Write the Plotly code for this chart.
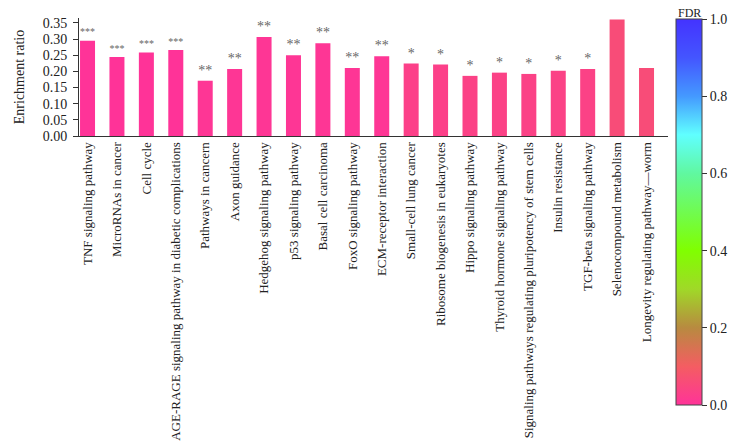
import plotly.graph_objects as go

pathways = [
    "TNF signaling pathway",
    "MicroRNAs in cancer",
    "Cell cycle",
    "AGE-RAGE signaling pathway in diabetic complications",
    "Pathways in cancern",
    "Axon guidance",
    "Hedgehog signaling pathway",
    "p53 signaling pathway",
    "Basal cell carcinoma",
    "FoxO signaling pathway",
    "ECM-receptor interaction",
    "Small-cell lung cancer",
    "Ribosome biogenesis in eukaryotes",
    "Hippo signaling pathway",
    "Thyroid hormone signaling pathway",
    "Signaling pathways regulating pluripotency of stem cells",
    "Insulin resistance",
    "TGF-beta signaling pathway",
    "Selenocompound metabolism",
    "Longevity regulating pathway\u2014worm",
]
enrichment = [0.295, 0.244, 0.258, 0.266, 0.171, 0.207, 0.306, 0.250, 0.287, 0.210,
              0.247, 0.224, 0.221, 0.186, 0.196, 0.192, 0.202, 0.207, 0.360, 0.210]
fdr = [0.001, 0.001, 0.001, 0.001, 0.008, 0.008, 0.008, 0.008, 0.008, 0.008,
       0.008, 0.03, 0.03, 0.035, 0.035, 0.035, 0.035, 0.035, 0.06, 0.06]
stars = ["***", "***", "***", "***", "**", "**", "**", "**", "**", "**",
         "**", "*", "*", "*", "*", "*", "*", "*", "", ""]
y_ticks = [0.00, 0.05, 0.10, 0.15, 0.20, 0.25, 0.30, 0.35]
cbar_ticks = [0.0, 0.2, 0.4, 0.6, 0.8, 1.0]

FONT = "Liberation Serif, Times New Roman, serif"

colorscale = [
    [0.0, "#FF3399"],
    [0.1, "#F45D62"],
    [0.2, "#B88A40"],
    [0.3, "#A0D828"],
    [0.4, "#80FF00"],
    [0.6, "#60F8A0"],
    [0.7, "#60FFFF"],
    [0.8, "#4499FF"],
    [0.9, "#4455FF"],
    [1.0, "#4433FF"],
]

plot_top, plot_bottom = 10, 128
plot_h = plot_bottom - plot_top
cb_len_px = 386
cb_center_px = 204
cb_center_paper = (plot_bottom - cb_center_px) / plot_h

fig = go.Figure(
    go.Bar(
        x=list(range(len(pathways))),
        y=enrichment,
        width=0.51,
        text=stars,
        textposition="outside",
        textfont=dict(family=FONT, size=14, color="#666666"),
        outsidetextfont=dict(family=FONT, size=14, color="#666666"),
        cliponaxis=False,
        marker=dict(
            color=fdr,
            colorscale=colorscale,
            cmin=0,
            cmax=1,
            line=dict(width=0),
            colorbar=dict(
                tickvals=cbar_ticks,
                ticktext=[f"{v:.1f}" for v in cbar_ticks],
                ticks="outside",
                ticklen=5,
                tickcolor="#333",
                tickfont=dict(family=FONT, size=14, color="#222"),
                thickness=26,
                thicknessmode="pixels",
                len=cb_len_px,
                lenmode="pixels",
                x=1.014,
                xanchor="left",
                xpad=0,
                yref="paper",
                y=cb_center_paper,
                yanchor="middle",
                ypad=0,
                outlinecolor="#444",
                outlinewidth=1,
            ),
        ),
        hoverinfo="x+y",
    )
)

fig.update_layout(
    width=738,
    height=448,
    margin=dict(l=71, r=78, t=plot_top, b=448 - plot_bottom),
    paper_bgcolor="white",
    plot_bgcolor="white",
    showlegend=False,
    font=dict(family=FONT, size=13, color="#222"),
    annotations=[
        dict(
            text="FDR",
            xref="paper",
            yref="paper",
            x=(681 - 71) / 589,
            y=(plot_bottom - 19) / plot_h,
            xanchor="center",
            yanchor="bottom",
            showarrow=False,
            font=dict(family=FONT, size=12, color="#222"),
            borderpad=0,
            yshift=6,
        )
    ],
)

fig.update_xaxes(
    range=[-0.29, 19.73],
    tickmode="array",
    tickvals=list(range(len(pathways))),
    ticktext=pathways,
    tickangle=-90,
    tickfont=dict(family=FONT, size=13, color="#222"),
    showline=True,
    linecolor="#333",
    linewidth=1,
    ticks="",
    showgrid=False,
    zeroline=False,
    automargin=False,
)

fig.update_yaxes(
    range=[0, 0.365],
    tickmode="array",
    tickvals=y_ticks,
    ticktext=[f"{v:.2f}" for v in y_ticks],
    tickfont=dict(family=FONT, size=14, color="#222"),
    ticks="outside",
    ticklen=5,
    tickcolor="#333",
    ticklabelstandoff=3,
    showline=True,
    linecolor="#333",
    linewidth=1,
    showgrid=False,
    zeroline=False,
    title=dict(text="Enrichment ratio", font=dict(family=FONT, size=14, color="#222"), standoff=14),
    automargin=False,
)

fig.write_html("out.html")
